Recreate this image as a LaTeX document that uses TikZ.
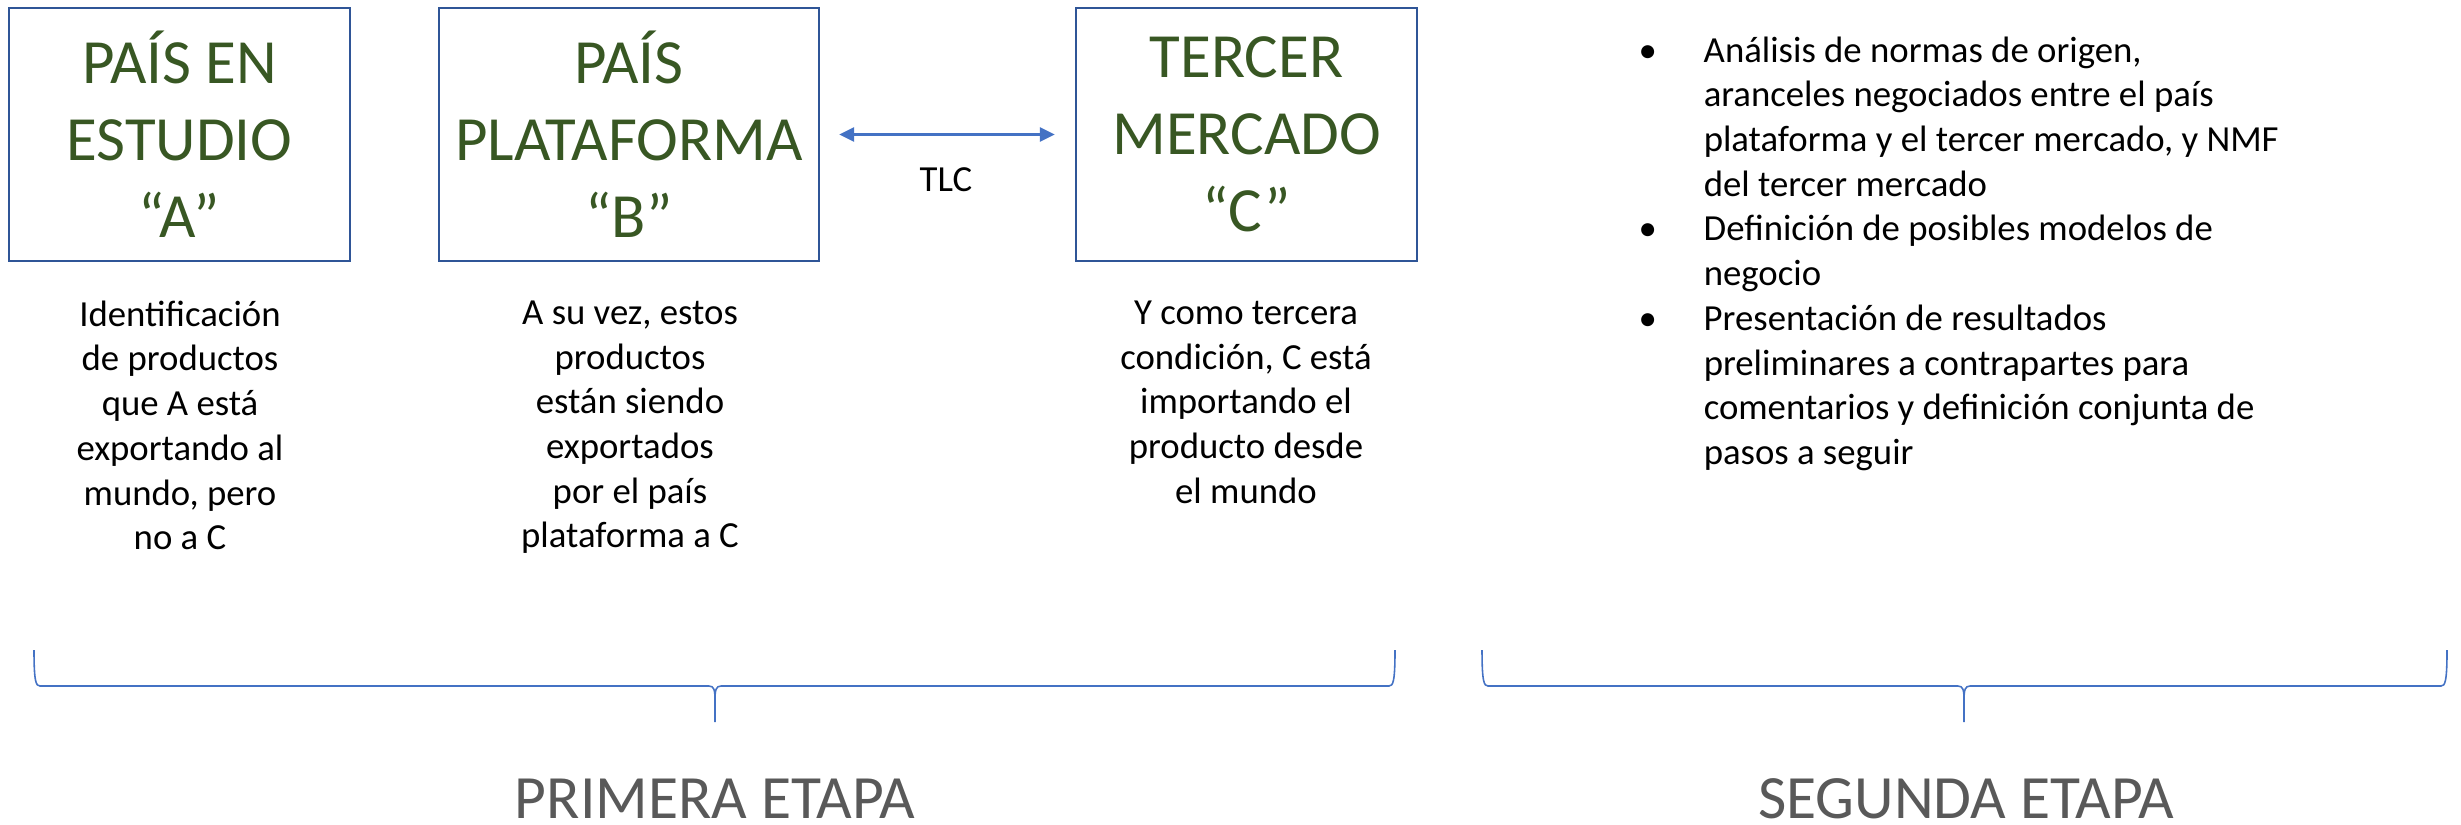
\documentclass[tikz,border=0pt]{standalone}
\usepackage{fontspec}
\setmainfont{Carlito}
\usetikzlibrary{arrows.meta}

\definecolor{boxblue}{HTML}{2F5597}
\definecolor{titlegreen}{HTML}{385723}
\definecolor{linkblue}{HTML}{4472C4}
\definecolor{stagegray}{HTML}{595959}

\begin{document}
\begin{tikzpicture}[x=0.01cm,y=-0.01cm,
  country/.style={draw=boxblue,line width=0.6pt,minimum width=3.41cm,minimum height=2.53cm,
    inner sep=0pt,align=center,text=titlegreen,font=\fontsize{17.9}{21.9}\selectfont},
  note/.style={anchor=north,inner sep=0pt,align=center,execute at begin node=\strut,
    font=\fontsize{10.45}{12.72}\selectfont},
  stage/.style={text=stagegray,inner sep=0pt,font=\fontsize{17.5}{20}\selectfont},
  brace/.style={draw=linkblue,line width=0.45pt}]
\useasboundingbox (0,0) rectangle (2461,824);

% los tres paises
\node[country] (a) at (179.5,134.5) {PAÍS EN\\ESTUDIO\\“A”};
\node[country,minimum width=3.8cm] (b) at (629,134.5) {PAÍS\\PLATAFORMA\\“B”};
\node[country] (c) at (1246.5,134.5) {TERCER\\MERCADO\\“C”};

\draw[linkblue,line width=0.8pt,{Triangle[length=0.15cm,width=0.14cm]}-{Triangle[length=0.15cm,width=0.14cm]},
  shorten <=0.19cm,shorten >=0.2cm] (b) -- (c);
\node[inner sep=0pt,font=\fontsize{10.45}{12.72}\selectfont] (tlc) at (946,180) {TLC};

\node[note] (notea) at (180,300) {Identificación\\de productos\\que A está\\exportando al\\mundo, pero\\no a C};
\node[note] (noteb) at (630,300) {A su vez, estos\\productos\\están siendo\\exportados\\por el país\\plataforma a C};
\node[note] (notec) at (1246,300) {Y como tercera\\condición, C está\\importando el\\producto desde\\el mundo};

% segunda etapa
\node[anchor=north west,inner sep=0pt,font=\fontsize{10.45}{12.72}\selectfont] (goals) at (1638,30) {%
\begin{tabular}{@{}p{0.65cm}@{}l@{}}
\textbullet & Análisis de normas de origen,\\
 & aranceles negociados entre el país\\
 & plataforma y el tercer mercado, y NMF\\
 & del tercer mercado\\
\textbullet & Definición de posibles modelos de\\
 & negocio\\
\textbullet & Presentación de resultados\\
 & preliminares a contrapartes para\\
 & comentarios y definición conjunta de\\
 & pasos a seguir
\end{tabular}};

\foreach \l/\m/\r in {34/715/1395,1482/1964/2447} {
\draw[brace] (\l,650) .. controls (\l,682) and (\l+2,686) .. (\l+6,686) -- (\m-6,686)
  .. controls (\m-1,686) and (\m,690) .. (\m,700) -- (\m,722);
\draw[brace] (\m,700) .. controls (\m,690) and (\m+1,686) .. (\m+6,686) -- (\r-6,686)
  .. controls (\r-2,686) and (\r,682) .. (\r,650);
}

\node[stage] (first) at (715,799) {PRIMERA ETAPA};
\node[stage] (second) at (1966,799) {SEGUNDA ETAPA};

\end{tikzpicture}
\end{document}
